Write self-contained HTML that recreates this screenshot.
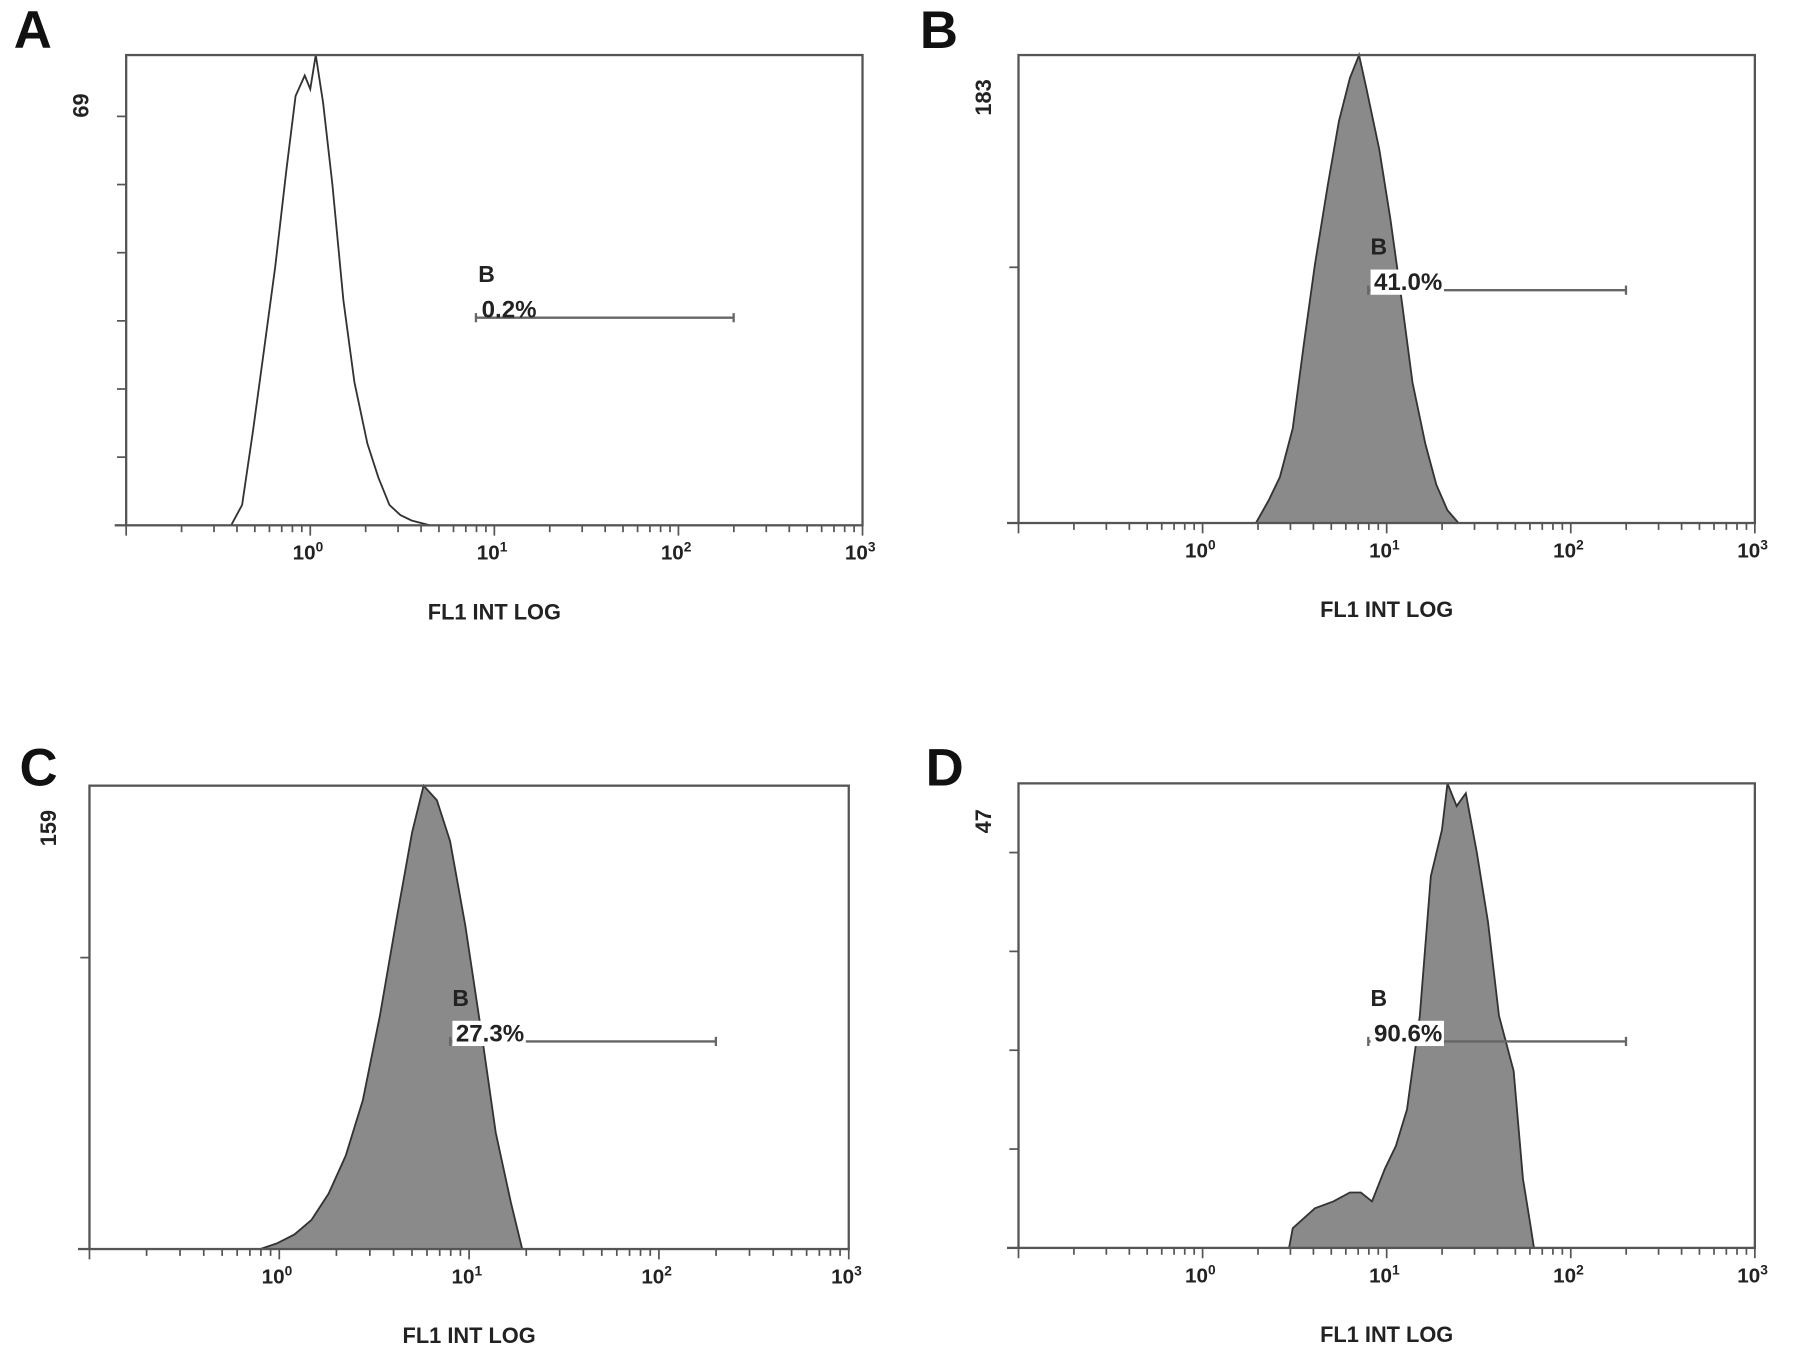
<!DOCTYPE html>
<html><head><meta charset="utf-8"><style>
html,body{margin:0;padding:0;background:#fff;}
svg{display:block;font-family:"Liberation Sans",Arial,sans-serif;}
</style></head><body>
<svg id="fig" width="1795" height="1358" viewBox="0 0 1565 1184" xmlns="http://www.w3.org/2000/svg"></svg>
<script>
// Panel data (log10 intensity positions, counts)
const aLogs=[-0.43,-0.37,-0.31,-0.25,-0.19,-0.13,-0.08,-0.03,0.0,0.03,0.07,0.12,0.18,0.24,0.31,0.37,0.43,0.49,0.55,0.65];
const aCounts=[0,3,14,26,38,52,63,66,64,69,62,50,33,21,12,7,3,1.5,0.7,0];
const bLogs=[0.29,0.36,0.42,0.49,0.55,0.61,0.68,0.74,0.8,0.85,0.89,0.96,1.02,1.08,1.14,1.21,1.27,1.33,1.39];
const bCounts=[0,9,18,37,70,101,132,157,174,183,170,146,119,88,55,31,15,5,0];
const cLogs=[-0.1,-0.01,0.08,0.17,0.26,0.35,0.44,0.53,0.62,0.7,0.76,0.83,0.9,0.98,1.07,1.14,1.22,1.28];
const cCounts=[0,2,5,10,19,32,51,80,114,143,159,154,140,111,72,40,16,0];
const dLogs=[0.47,0.49,0.61,0.71,0.8,0.86,0.92,0.99,1.05,1.11,1.18,1.24,1.3,1.33,1.38,1.43,1.49,1.55,1.61,1.69,1.74,1.78,1.8];
const dCounts=[0,2,4,4.7,5.6,5.6,4.7,8,10.3,14,23.5,37.6,42.3,47,44.7,46,40,33,23.5,17.9,7,2.4,0];
const panelLetters=["A","B","C","D"];
const yMaxLabels=[69,183,159,47];
const yTickSteps=[10,100,100,10];
const gateLabels=["0.2%","41.0%","27.3%","90.6%"];
const gateStart=[0.9,0.9,0.9,0.9];
const gateEnd=[2.3,2.3,2.3,2.3];
const decadeLabels=["0","1","2","3"];

const panels=[
 {L:110,T:48,R:752,B:458,lx:30,ly:22,logs:aLogs,counts:aCounts,fill:false,gy:277,mlx:70,mly:92},
 {L:888,T:48,R:1530,B:456,lx:820,ly:22,logs:bLogs,counts:bCounts,fill:true,gy:253,mlx:857,mly:85},
 {L:78,T:685,R:740,B:1089,lx:35,ly:665,logs:cLogs,counts:cCounts,fill:true,gy:908,mlx:42,mly:722},
 {L:888,T:683,R:1530,B:1088,lx:825,ly:665,logs:dLogs,counts:dCounts,fill:true,gy:908,mlx:857,mly:716}
];
const NS="http://www.w3.org/2000/svg";
const svg=document.getElementById('fig');
function mk(tag,attrs,parent){const e=document.createElementNS(NS,tag);for(const k in attrs)e.setAttribute(k,attrs[k]);(parent||svg).appendChild(e);return e;}
panels.forEach((p,i)=>{
 const g=mk('g',{});
 
 
 const xs=v=>p.L+(v+1)/4*(p.R-p.L);
 const ys=c=>p.B-c/yMaxLabels[i]*(p.B-p.T);
 const lt=mk('text',{x:p.lx-18,y:p.ly+20,'font-size':46,'font-weight':'bold',fill:'#111'},g);
 lt.textContent=panelLetters[i];
 
 
 let d='M'+xs(p.logs[0])+','+p.B;
 p.logs.forEach((v,j)=>{d+=' L'+xs(v).toFixed(1)+','+ys(p.counts[j]).toFixed(1);});
 d+=' L'+xs(p.logs[p.logs.length-1])+','+p.B;
 const h=mk('path',{d:d,fill:p.fill?'#8a8a8a':'none',stroke:'#333','stroke-width':1.6},g);
 
 
 const bx=mk('rect',{x:p.L,y:p.T,width:p.R-p.L,height:p.B-p.T,fill:'none',stroke:'#555','stroke-width':2},g);
 
 
 for(let dec=-1;dec<3;dec++){for(let m=1;m<=9;m++){const v=dec+Math.log10(m);const x=xs(v);
  mk('line',{x1:x,x2:x,y1:p.B,y2:p.B+(m==1?9:6),stroke:'#555','stroke-width':1.5},g);}}
 mk('line',{x1:p.R,x2:p.R,y1:p.B,y2:p.B+9,stroke:'#555','stroke-width':1.5},g);
 mk('line',{x1:p.L-10,x2:p.L,y1:p.B,y2:p.B,stroke:'#555','stroke-width':2},g);
 decadeLabels.forEach((s,k)=>{const x=xs(k);
  const t=mk('text',{x:x-2,y:p.B+30,'font-size':18,'font-weight':'600','text-anchor':'middle',fill:'#222'},g);
  t.textContent='10';
  const sp=mk('tspan',{dy:-7,'font-size':12},t);sp.textContent=s;
  
  });
 for(let c=yTickSteps[i];c<yMaxLabels[i];c+=yTickSteps[i]){const y=ys(c);
  mk('line',{x1:p.L-8,x2:p.L,y1:y,y2:y,stroke:'#555','stroke-width':1.5},g);}
 const ym=mk('text',{x:0,y:0,'font-size':19,'font-weight':'bold','text-anchor':'middle',fill:'#222',transform:'translate('+(p.mlx+7)+','+p.mly+') rotate(-90)'},g);
 ym.textContent=yMaxLabels[i];
 
 
 const xt=mk('text',{x:(p.L+p.R)/2,y:p.B+82,'font-size':19,'font-weight':'bold','text-anchor':'middle',fill:'#222'},g);
 xt.textContent='FL1 INT LOG';
 
 
 const gx1=xs(gateStart[i]),gx2=xs(gateEnd[i]);
 const gl=mk('line',{x1:gx1,x2:gx2,y1:p.gy,y2:p.gy,stroke:'#666','stroke-width':2},g);
 
 
 mk('line',{x1:gx1,x2:gx1,y1:p.gy-4,y2:p.gy+4,stroke:'#666','stroke-width':2},g);
 mk('line',{x1:gx2,x2:gx2,y1:p.gy-4,y2:p.gy+4,stroke:'#666','stroke-width':2},g);
 if(p.fill) mk('rect',{x:gx1+2,y:p.gy-18,width:gateLabels[i].length*12+4,height:22,fill:'#fff'},g);
 const gt=mk('text',{x:gx1+5,y:p.gy,'font-size':21,'font-weight':'bold',fill:'#222'},g);
 gt.textContent=gateLabels[i];
 
 
 const gb=mk('text',{x:gx1+2,y:p.gy-31,'font-size':20,'font-weight':'bold',fill:'#222'},g);
 gb.textContent='B';
 
 
});
</script>
</body></html>
